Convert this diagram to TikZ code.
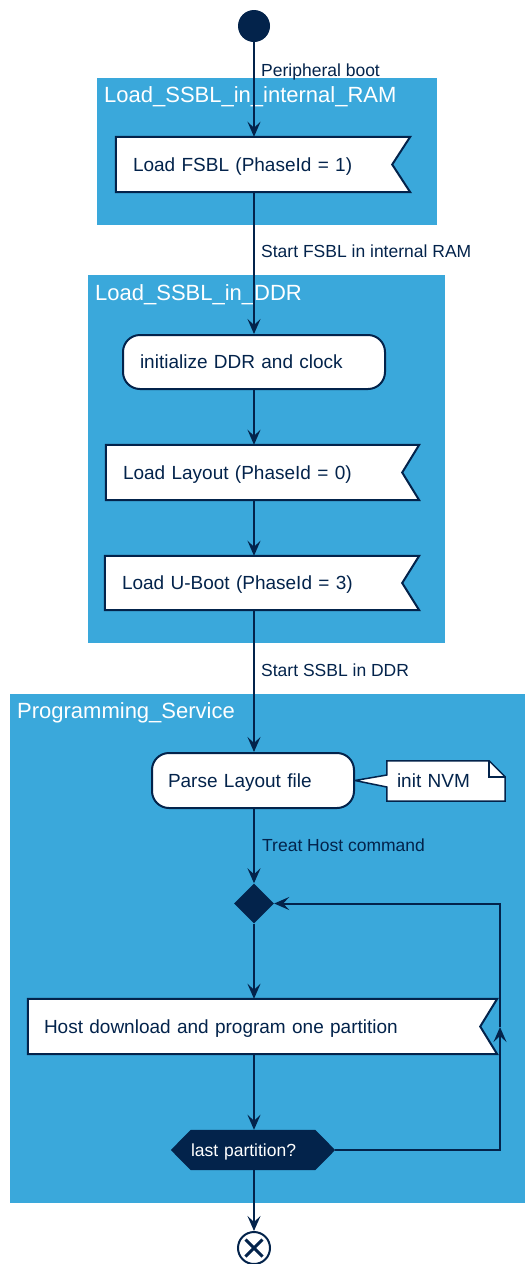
\documentclass[tikz,border=0pt]{standalone}
\usepackage{fontspec}
\setmainfont{Liberation Sans}
\usetikzlibrary{arrows.meta,shapes.geometric}
\definecolor{navy}{RGB}{3,35,75}
\definecolor{stblue}{RGB}{58,168,219}
\pgfdeclarelayer{grp}
\pgfdeclarelayer{shp}
\pgfsetlayers{grp,shp,main}
\tikzset{
  boxtxt/.style={rectangle, inner ysep=0pt, align=left, text=navy, text height=13.6pt, text depth=0pt, font=\fontsize{19}{22}\selectfont},
  roundbox/.style={boxtxt, draw=navy, line width=2pt, fill=white, rounded corners=17pt},
  flagline/.style={draw=navy, line width=2pt, fill=white, line join=miter},
  grpfill/.style={fill=stblue},
  gtitle/.style={anchor=base west, text=white, inner sep=0pt, font=\fontsize{22}{26}\selectfont},
  lbl/.style={anchor=base west, text=navy, inner sep=0pt, font=\fontsize{17.5}{20}\selectfont},
  conn/.style={draw=navy, line width=2pt},
  arr/.style={conn, -{Stealth[length=15pt,width=13pt,inset=6pt]}},
}
\begin{document}
\begin{tikzpicture}[x=1pt,y=-1pt]
\useasboundingbox (0,0) rectangle (525,1264);

% groups
\begin{pgfonlayer}{grp}
  \fill[grpfill] (97,78) rectangle (437,225);
  \fill[grpfill] (88,275) rectangle (445,643);
  \fill[grpfill] (10,694) rectangle (525,1203);
\end{pgfonlayer}
\node[gtitle] (g1t) at (104,102) {Load\_SSBL\_in\_internal\_RAM};
\node[gtitle] (g2t) at (95,300) {Load\_SSBL\_in\_DDR};
\node[gtitle] (g3t) at (17,718) {Programming\_Service};

% start
\node[circle, fill=navy, minimum size=32pt, inner sep=0pt] (start) at (254,26) {};

% activity boxes
\node[boxtxt, minimum width=294pt, minimum height=55pt, inner xsep=17pt, text width=260pt] (fsbl) at (263,164.5) {Load FSBL (PhaseId = 1)};
\node[roundbox, minimum width=262pt, minimum height=54pt, inner xsep=17pt, text width=228pt] (init) at (254,362) {initialize DDR and clock};
\node[boxtxt, minimum width=313pt, minimum height=55pt, inner xsep=17pt, text width=279pt] (layout) at (262.5,472.5) {Load Layout (PhaseId = 0)};
\node[boxtxt, minimum width=314pt, minimum height=54pt, inner xsep=17pt, text width=280pt] (uboot) at (262,583) {Load U-Boot (PhaseId = 3)};
\node[roundbox, minimum width=202pt, minimum height=55pt, inner xsep=16pt, text width=170pt] (parse) at (253,780.5) {Parse Layout file};
\node[boxtxt, minimum width=118pt, minimum height=40pt, inner xsep=10pt, text width=98pt] (note) at (446,781) {init NVM};
\node[diamond, fill=navy, minimum width=40pt, minimum height=40pt, inner sep=0pt] (merge) at (254,903.5) {};
\node[boxtxt, minimum width=469pt, minimum height=55pt, inner xsep=16pt, text width=437pt] (host) at (262.5,1026.5) {Host download and program one partition};
\node[boxtxt, text=white, text height=12.5pt, font=\fontsize{17.5}{20}\selectfont, minimum width=164pt, minimum height=40pt, inner xsep=20pt, text width=124pt] (last) at (253,1150) {last partition?};
\node[circle, draw=navy, line width=2pt, fill=white, minimum size=32pt, inner sep=0pt] (stop) at (254,1248) {};
\draw[navy, line width=3pt] ([shift={(-8.5pt,-8.5pt)}]stop.center) -- ([shift={(8.5pt,8.5pt)}]stop.center)
      ([shift={(-8.5pt,8.5pt)}]stop.center) -- ([shift={(8.5pt,-8.5pt)}]stop.center);

\begin{pgfonlayer}{shp}
  \draw[flagline] (fsbl.north west) -- (fsbl.north east) -- ([xshift=-18pt]fsbl.east) -- (fsbl.south east) -- (fsbl.south west) -- cycle;
  \draw[flagline] (layout.north west) -- (layout.north east) -- ([xshift=-17pt]layout.east) -- (layout.south east) -- (layout.south west) -- cycle;
  \draw[flagline] (uboot.north west) -- (uboot.north east) -- ([xshift=-17pt]uboot.east) -- (uboot.south east) -- (uboot.south west) -- cycle;
  \draw[flagline] (host.north west) -- (host.north east) -- ([xshift=-17pt]host.east) -- (host.south east) -- (host.south west) -- cycle;
  \fill[navy] (last.west) -- ([xshift=20pt]last.north west) -- ([xshift=-20pt]last.north east) -- (last.east) -- ([xshift=-20pt]last.south east) -- ([xshift=20pt]last.south west) -- cycle;
  \draw[draw=navy, line width=1.5pt, fill=white, line join=miter]
    (note.north west) -- ([xshift=-16pt]note.north east) -- ([yshift=-16pt]note.north east) -- (note.south east) -- (note.south west)
    -- ([yshift=-6pt]note.west) -- (parse.east) -- ([yshift=6pt]note.west) -- cycle;
  \draw[navy, line width=1.5pt] ([xshift=-16pt]note.north east) -- ([xshift=-16pt,yshift=-16pt]note.north east) -- ([yshift=-16pt]note.north east);
\end{pgfonlayer}

% labels
\node[lbl] (l1) at (261,76) {Peripheral boot};
\node[lbl] (l2) at (261,257) {Start FSBL in internal RAM};
\node[lbl] (l3) at (261,676) {Start SSBL in DDR};
\node[lbl] (l4) at (262,851) {Treat Host command};

% connectors
\draw[arr] (start.south) -- (start.south |- fsbl.north);
\draw[arr] (start |- fsbl.south) -- (start |- init.north);
\draw[arr] (init.south) -- (init.south |- layout.north);
\draw[arr] (start |- layout.south) -- (start |- uboot.north);
\draw[arr] (start |- uboot.south) -- (start |- parse.north);
\draw[arr] (start |- parse.south) -- (merge.north);
\draw[arr] (merge.south) -- (merge.south |- host.north);
\draw[arr] (merge.south |- host.south) -- (merge.south |- last.north);
\draw[arr] (merge.south |- last.south) -- (stop.north);

% loop back
\coordinate (lx) at (500,1027);
\coordinate (lpb) at (last.east -| lx);
\coordinate (lpt) at (merge.east -| lx);
\draw[arr] (last.east) -- (lpb) -- (lx);
\draw[arr] (lx) -- (lpt) -- (merge.east);
\end{tikzpicture}
\end{document}
